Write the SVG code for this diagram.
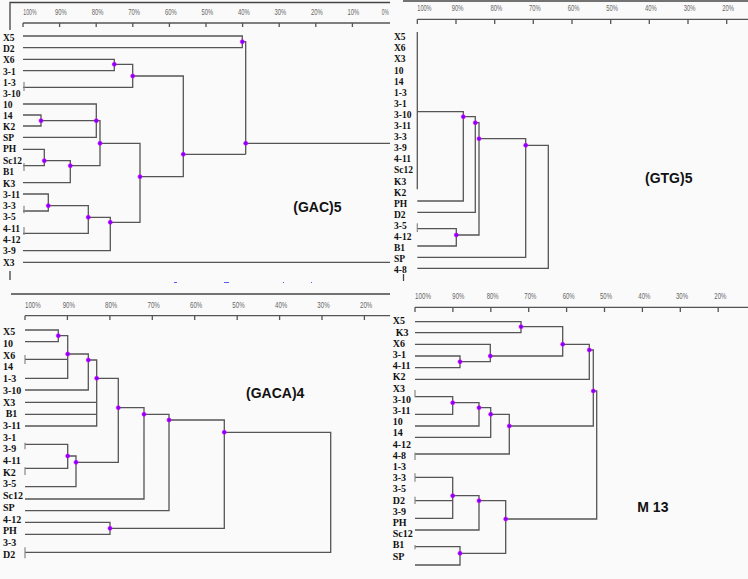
<svg xmlns="http://www.w3.org/2000/svg" width="748" height="579" viewBox="0 0 748 579">
<style>
.bg{fill:#fafafa}
.ln{fill:none;stroke:#555;stroke-width:1.3}
.fr{fill:none;stroke:#444;stroke-width:1.3}
.bar{fill:none;stroke:#888;stroke-width:1.2}
.ax{font-family:"Liberation Sans",Arial,sans-serif;font-size:9px;fill:#666}
.lf{font-family:"Liberation Serif","Times New Roman",serif;font-weight:bold;font-size:9.5px;fill:#111}
.lf2{font-family:"Liberation Serif","Times New Roman",serif;font-weight:bold;font-size:10px;fill:#111}
.tt{font-family:"Liberation Sans",Arial,sans-serif;font-weight:bold;font-size:14px;fill:#111}
.dot{fill:#7a00ff;stroke:#e000ff;stroke-width:0.7}
.blue{stroke:#5a5aff;stroke-width:1;fill:none}
</style>
<defs>
<circle id="d" r="2" class="dot"/>
</defs>
<rect class="bg" x="0" y="0" width="748" height="579"/>

<!-- ================= Panel 1 (GAC)5 ================= -->
<g id="panel1">
<g id="p1-axis">
<path class="fr" d="M10 30V2.5H390M10 271V280"/>
<path class="ln" d="M23 23H390M23 23V27M59.6 23V27M96.2 23V27M132.8 23V27M169.4 23V27M206 23V27M242.6 23V27M279.2 23V27M315.8 23V27M352.4 23V27"/>
<g class="ax">
<text x="23.3" y="15" textLength="13.3" lengthAdjust="spacingAndGlyphs">100%</text>
<text x="55" y="15" textLength="11.7" lengthAdjust="spacingAndGlyphs">90%</text>
<text x="91.7" y="15" textLength="11.7" lengthAdjust="spacingAndGlyphs">80%</text>
<text x="128.3" y="15" textLength="11.7" lengthAdjust="spacingAndGlyphs">70%</text>
<text x="165" y="15" textLength="11.7" lengthAdjust="spacingAndGlyphs">60%</text>
<text x="201.5" y="15" textLength="11.7" lengthAdjust="spacingAndGlyphs">50%</text>
<text x="238" y="15" textLength="11.7" lengthAdjust="spacingAndGlyphs">40%</text>
<text x="274.5" y="15" textLength="11.7" lengthAdjust="spacingAndGlyphs">30%</text>
<text x="311" y="15" textLength="11.7" lengthAdjust="spacingAndGlyphs">20%</text>
<text x="347.5" y="15" textLength="11.7" lengthAdjust="spacingAndGlyphs">10%</text>
<text x="381.7" y="15" textLength="7" lengthAdjust="spacingAndGlyphs">0%</text>
</g>
</g>
<g id="p1-leaves" class="lf">
<text id="p1-X5" x="3" y="40.5">X5</text>
<text id="p1-D2" x="3" y="51.5">D2</text>
<text id="p1-X6" x="3" y="63">X6</text>
<text id="p1-3-1" x="3" y="74.5">3-1</text>
<text id="p1-1-3" x="3" y="85.5">1-3</text>
<text id="p1-3-10" x="3" y="96.5">3-10</text>
<text id="p1-10" x="3" y="107.5">10</text>
<text id="p1-14" x="3" y="118.5">14</text>
<text id="p1-K2" x="3" y="129.5">K2</text>
<text id="p1-SP" x="3" y="140.5">SP</text>
<text id="p1-PH" x="3" y="152">PH</text>
<text id="p1-Sc12" x="3" y="164">Sc12</text>
<text id="p1-B1" x="3" y="175">B1</text>
<text id="p1-K3" x="3" y="186.5">K3</text>
<text id="p1-3-11" x="3" y="197.5">3-11</text>
<text id="p1-3-3" x="3" y="209">3-3</text>
<text id="p1-3-5" x="3" y="220">3-5</text>
<text id="p1-4-11" x="3" y="231.5">4-11</text>
<text id="p1-4-12" x="3" y="242.5">4-12</text>
<text id="p1-3-9" x="3" y="253.5">3-9</text>
<text id="p1-X3" x="3" y="265.5">X3</text>
</g>
<g id="p1-connectors">
<path class="ln" d="M23 36H242.3V47.7H23M242.3 41.7H245.7V154.3M245.7 143.3H390
M23 59.3H114.3V70.7H23M114.3 64.3H132.7V87.3H23M132.7 76H183.3V176.7H140M183.3 154.3H245.7
M23 104H96.3V137.3H23M23 115H41V126H23M41 120.7H96.3M96.3 120.7H100V165.7H70.3M100 143.3H140V222.3H110.3
M23 149.3H44.3V165.7H23M44.3 160.7H70.3V182.7H23
M23 194H48.3V211H23M48.3 205.7H88.3V233.3H23M88.3 217.3H110.3V250.7H23
M23 262.3H390"/>
<path class="bar" d="M24 82V91M24 163V171M24 205.7V213.3M24 227V235"/>
</g>
<g id="p1-nodes">
<use href="#d" x="242.3" y="41.7"/><use href="#d" x="245.7" y="143.3"/>
<use href="#d" x="114.3" y="64.3"/><use href="#d" x="132.7" y="76"/>
<use href="#d" x="183.3" y="154.3"/><use href="#d" x="41" y="120.7"/>
<use href="#d" x="96.3" y="120.7"/><use href="#d" x="100" y="143.3"/>
<use href="#d" x="44.3" y="160.7"/><use href="#d" x="70.3" y="165.7"/>
<use href="#d" x="140" y="176.7"/><use href="#d" x="48.3" y="205.7"/>
<use href="#d" x="88.3" y="217.3"/><use href="#d" x="110.3" y="222.3"/>
</g>
<path class="blue" d="M174 282.5H177M224 282.5H229M283 282.5H284M311 282.5H312"/>
<text id="p1-title" class="tt" x="293.3" y="211.7">(GAC)5</text>
</g>

<!-- ================= Panel 2 (GTG)5 ================= -->
<g id="panel2">
<g id="p2-axis">
<path class="fr" d="M403 1H748"/>
<path class="ln" d="M417.3 19.3H748M417.3 19.3V24M456 19.3V24M494.7 19.3V24M533.3 19.3V24M572 19.3V24M610.7 19.3V24M649.3 19.3V24M688 19.3V24M726.7 19.3V24"/>
<g class="ax">
<text x="417.3" y="10.7" textLength="14.3" lengthAdjust="spacingAndGlyphs">100%</text>
<text x="451.7" y="10.7" textLength="11.7" lengthAdjust="spacingAndGlyphs">90%</text>
<text x="490.4" y="10.7" textLength="11.7" lengthAdjust="spacingAndGlyphs">80%</text>
<text x="529" y="10.7" textLength="11.7" lengthAdjust="spacingAndGlyphs">70%</text>
<text x="567.7" y="10.7" textLength="11.7" lengthAdjust="spacingAndGlyphs">60%</text>
<text x="606.3" y="10.7" textLength="11.7" lengthAdjust="spacingAndGlyphs">50%</text>
<text x="645" y="10.7" textLength="11.7" lengthAdjust="spacingAndGlyphs">40%</text>
<text x="683.7" y="10.7" textLength="11.7" lengthAdjust="spacingAndGlyphs">30%</text>
<text x="722.3" y="10.7" textLength="11.7" lengthAdjust="spacingAndGlyphs">20%</text>
</g>
</g>
<g id="p2-leaves" class="lf">
<text id="p2-X5" x="394" y="40.2">X5</text>
<text id="p2-X6" x="394" y="51.3">X6</text>
<text id="p2-X3" x="394" y="62.4">X3</text>
<text id="p2-10" x="394" y="73.5">10</text>
<text id="p2-14" x="394" y="84.6">14</text>
<text id="p2-1-3" x="394" y="95.7">1-3</text>
<text id="p2-3-1" x="394" y="106.8">3-1</text>
<text id="p2-3-10" x="394" y="117.9">3-10</text>
<text id="p2-3-11" x="394" y="129">3-11</text>
<text id="p2-3-3" x="394" y="140.1">3-3</text>
<text id="p2-3-9" x="394" y="151.2">3-9</text>
<text id="p2-4-11" x="394" y="162.3">4-11</text>
<text id="p2-Sc12" x="394" y="173.4">Sc12</text>
<text id="p2-K3" x="394" y="184.5">K3</text>
<text id="p2-K2" x="394" y="195.6">K2</text>
<text id="p2-PH" x="394" y="206.7">PH</text>
<text id="p2-D2" x="394" y="217.8">D2</text>
<text id="p2-3-5" x="394" y="228.9">3-5</text>
<text id="p2-4-12" x="394" y="240">4-12</text>
<text id="p2-B1" x="394" y="251.1">B1</text>
<text id="p2-SP" x="394" y="262.2">SP</text>
<text id="p2-4-8" x="394" y="273.3">4-8</text>
</g>
<g id="p2-connectors">
<path class="ln" d="M417.3 32V189.3M417.3 111.7H463.3V201H417.3M463.3 116.7H475.3V212.3H417.3M475.3 122.7H479V235H456.3
M479 138.7H525.7V257.3H417.3M525.7 145.3H548.3V268.3H417.3M417.3 228.7H456.3V246H417.3"/>
<path class="bar" d="M417.3 223.3V232"/>
<path class="fr" stroke-width="2" d="M403.5 274V281"/>
</g>
<g id="p2-nodes">
<use href="#d" x="463.3" y="116.7"/><use href="#d" x="475.3" y="122.7"/>
<use href="#d" x="479" y="138.7"/><use href="#d" x="456.3" y="235"/>
<use href="#d" x="525.7" y="145.3"/>
</g>
<text id="p2-title" class="tt" x="645" y="183.3">(GTG)5</text>
</g>

<!-- ================= Panel 3 (GACA)4 ================= -->
<g id="panel3">
<g id="p3-axis">
<path class="fr" d="M11 294H390"/>
<path class="ln" d="M25 315.7H390M25 315.7V320M67.4 315.7V320M109.9 315.7V320M152.3 315.7V320M194.7 315.7V320M237.2 315.7V320M279.6 315.7V320M322 315.7V320M364.4 315.7V320"/>
<g class="ax">
<text x="25" y="307.5" textLength="15.7" lengthAdjust="spacingAndGlyphs">100%</text>
<text x="62.7" y="307.5" textLength="12.3" lengthAdjust="spacingAndGlyphs">90%</text>
<text x="105" y="307.5" textLength="12.3" lengthAdjust="spacingAndGlyphs">80%</text>
<text x="147.5" y="307.5" textLength="12.3" lengthAdjust="spacingAndGlyphs">70%</text>
<text x="190" y="307.5" textLength="12.3" lengthAdjust="spacingAndGlyphs">60%</text>
<text x="232.3" y="307.5" textLength="12.3" lengthAdjust="spacingAndGlyphs">50%</text>
<text x="275" y="307.5" textLength="12.3" lengthAdjust="spacingAndGlyphs">40%</text>
<text x="317.3" y="307.5" textLength="12.3" lengthAdjust="spacingAndGlyphs">30%</text>
<text x="360" y="307.5" textLength="12.3" lengthAdjust="spacingAndGlyphs">20%</text>
</g>
</g>
<g id="p3-leaves" class="lf2">
<text id="p3-X5" x="3" y="335.3">X5</text>
<text id="p3-10" x="3" y="347">10</text>
<text id="p3-X6" x="3" y="358.7">X6</text>
<text id="p3-14" x="3" y="370.4">14</text>
<text id="p3-1-3" x="3" y="382.1">1-3</text>
<text id="p3-3-10" x="3" y="393.8">3-10</text>
<text id="p3-X3" x="3" y="405.5">X3</text>
<text id="p3-B1" x="5.7" y="417.2">B1</text>
<text id="p3-3-11" x="3" y="428.9">3-11</text>
<text id="p3-3-1" x="3" y="440.6">3-1</text>
<text id="p3-3-9" x="3" y="452.3">3-9</text>
<text id="p3-4-11" x="3" y="464">4-11</text>
<text id="p3-K2" x="3" y="475.7">K2</text>
<text id="p3-3-5" x="3" y="487.4">3-5</text>
<text id="p3-Sc12" x="3" y="499.1">Sc12</text>
<text id="p3-SP" x="3" y="510.8">SP</text>
<text id="p3-4-12" x="3" y="522.5">4-12</text>
<text id="p3-PH" x="3" y="534.2">PH</text>
<text id="p3-3-3" x="3" y="545.9">3-3</text>
<text id="p3-D2" x="3" y="557.6">D2</text>
</g>
<g id="p3-connectors">
<path class="ln" d="M25 330H58.3V341.7H25M58.3 335.7H67.7V378.3H25M25 359.3H67.7M67.7 354H88.3V390H25
M88.3 360H96.7V426H25M25 402.3H96.7M25 414.3H96.7M96.7 378.3H118.3V462.3H76
M118.3 407.7H144V499H25M144 414.3H169V510.7H25M169 420H224.3V528.3H110M224.3 432.3H330.7V552.3H25
M25 444.3H67.7V468.3H25M67.7 456H76V486.7H25M25 522.3H110V534.3H25"/>
<path class="bar" d="M25 355V364M25 547.3V558.3M25 442.7V449.3M25 467.3V475"/>
</g>
<g id="p3-nodes">
<use href="#d" x="58.3" y="335.7"/><use href="#d" x="67.7" y="354"/>
<use href="#d" x="88.3" y="360"/><use href="#d" x="96.7" y="378.3"/>
<use href="#d" x="118.3" y="407.7"/><use href="#d" x="144" y="414.3"/>
<use href="#d" x="169" y="420"/><use href="#d" x="224.3" y="432.3"/>
<use href="#d" x="67.7" y="456"/><use href="#d" x="76" y="462.3"/>
<use href="#d" x="110" y="528.3"/>
</g>
<text id="p3-title" class="tt" x="246" y="398" font-size="14.6">(GACA)4</text>
</g>

<!-- ================= Panel 4 M 13 ================= -->
<g id="panel4">
<g id="p4-axis">
<path class="ln" d="M415 307.3H748M415 307.3V312M452.9 307.3V312M490.8 307.3V312M528.7 307.3V312M566.6 307.3V312M604.5 307.3V312M642.4 307.3V312M680.3 307.3V312M718.2 307.3V312"/>
<g class="ax">
<text x="415" y="299.3" textLength="16" lengthAdjust="spacingAndGlyphs">100%</text>
<text x="452.3" y="299.3" textLength="12" lengthAdjust="spacingAndGlyphs">90%</text>
<text x="486.7" y="299.3" textLength="12" lengthAdjust="spacingAndGlyphs">80%</text>
<text x="524.3" y="299.3" textLength="12" lengthAdjust="spacingAndGlyphs">70%</text>
<text x="562.7" y="299.3" textLength="12" lengthAdjust="spacingAndGlyphs">60%</text>
<text x="600" y="299.3" textLength="12" lengthAdjust="spacingAndGlyphs">50%</text>
<text x="638.3" y="299.3" textLength="12" lengthAdjust="spacingAndGlyphs">40%</text>
<text x="676" y="299.3" textLength="12" lengthAdjust="spacingAndGlyphs">30%</text>
<text x="714.3" y="299.3" textLength="12" lengthAdjust="spacingAndGlyphs">20%</text>
</g>
</g>
<g id="p4-leaves" class="lf2">
<text id="p4-X5" x="392.7" y="324.3">X5</text>
<text id="p4-K3" x="395.7" y="335.5">K3</text>
<text id="p4-X6" x="392.7" y="346.7">X6</text>
<text id="p4-3-1" x="392.7" y="357.9">3-1</text>
<text id="p4-4-11" x="392.7" y="369.1">4-11</text>
<text id="p4-K2" x="392.7" y="380.3">K2</text>
<text id="p4-X3" x="392.7" y="391.5">X3</text>
<text id="p4-3-10" x="392.7" y="402.7">3-10</text>
<text id="p4-3-11" x="392.7" y="413.9">3-11</text>
<text id="p4-10" x="392.7" y="425.1">10</text>
<text id="p4-14" x="392.7" y="436.3">14</text>
<text id="p4-4-12" x="392.7" y="447.5">4-12</text>
<text id="p4-4-8" x="392.7" y="458.7">4-8</text>
<text id="p4-1-3" x="392.7" y="469.9">1-3</text>
<text id="p4-3-3" x="392.7" y="481.1">3-3</text>
<text id="p4-3-5" x="392.7" y="492.3">3-5</text>
<text id="p4-D2" x="392.7" y="503.5">D2</text>
<text id="p4-3-9" x="392.7" y="514.7">3-9</text>
<text id="p4-PH" x="392.7" y="525.9">PH</text>
<text id="p4-Sc12" x="392.7" y="537.1">Sc12</text>
<text id="p4-B1" x="392.7" y="548.3">B1</text>
<text id="p4-SP" x="392.7" y="559.5">SP</text>
</g>
<g id="p4-connectors">
<path class="ln" d="M415 321.7H521V332.7H415M521 326.7H562.7V356H490.3M415 344.3H490.3V361.7H460M415 356H460V367.7H415
M562.7 344.3H589.3V379.3H415M589.3 350H593.3V426H509.3M593.3 391H596.7V519H505.7
M415 396.7H452.7V414.3H415M452.7 402.7H479V426H415M479 407.7H490.7V437.3H415M490.7 414.3H509.3V454H415
M415 477.3H452.7V518.3H415M415 500.7H452.7M452.7 495.7H479V530H415M479 500.7H505.7V553.3H460M415 546.7H460V565H415"/>
<path class="bar" d="M415 390V397.3M415 452.7V460M415 473.3V481.7M415 496.7V504M415 545V549.3"/>
</g>
<g id="p4-nodes">
<use href="#d" x="521" y="326.7"/><use href="#d" x="562.7" y="344.3"/>
<use href="#d" x="490.3" y="356"/><use href="#d" x="460" y="361.7"/>
<use href="#d" x="589.3" y="350"/><use href="#d" x="593.3" y="391"/>
<use href="#d" x="452.7" y="402.7"/><use href="#d" x="479" y="407.7"/>
<use href="#d" x="490.7" y="414.3"/><use href="#d" x="509.3" y="426"/>
<use href="#d" x="452.7" y="495.7"/><use href="#d" x="479" y="500.7"/>
<use href="#d" x="505.7" y="519"/><use href="#d" x="460" y="553.3"/>
</g>
<text id="p4-title" class="tt" x="637.3" y="511.7">M 13</text>
</g>
</svg>
